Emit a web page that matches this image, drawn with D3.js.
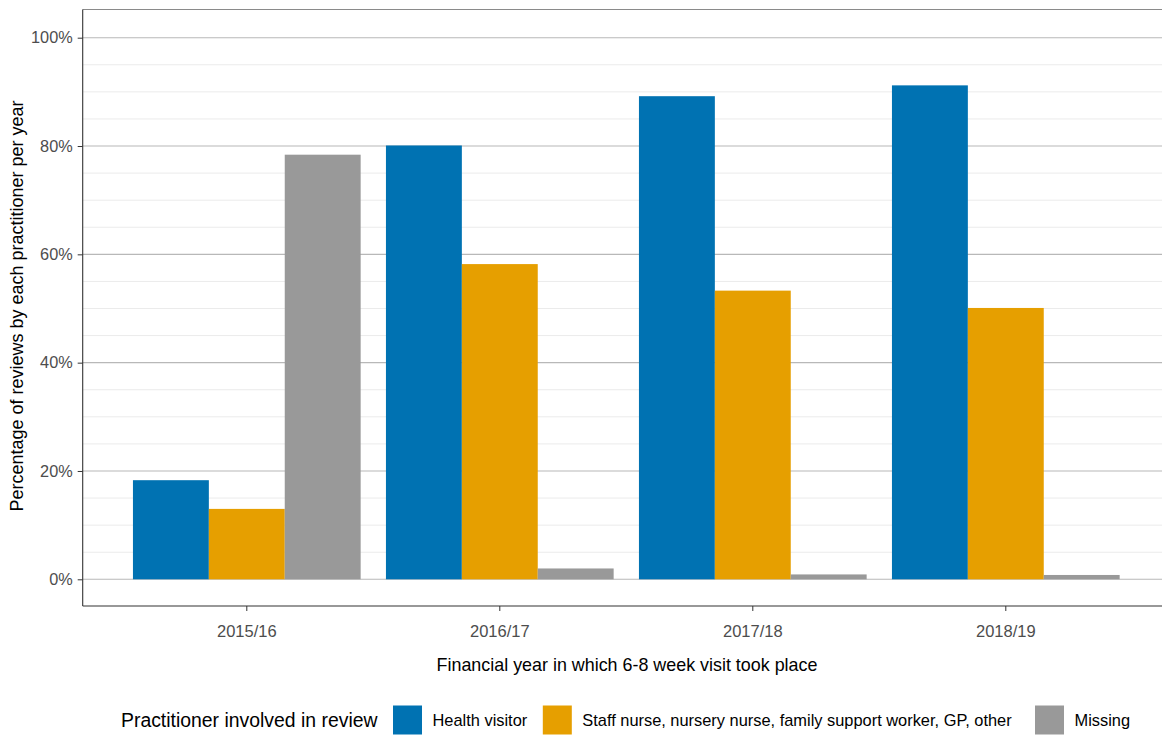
<!DOCTYPE html>
<html><head><meta charset="utf-8">
<script src="https://cdn.jsdelivr.net/npm/d3@7"></script>
<style>body{margin:0;background:#fff}text{font-family:"Liberation Sans",Arial,sans-serif}</style>
</head><body><svg id="c" width="1162" height="735"></svg>
<script>
const years = ["2015/16","2016/17","2017/18","2018/19"];
const seriesNames = ["Health visitor","Staff nurse, nursery nurse, family support worker, GP, other","Missing"];
const healthVisitor = [0.183, 0.801, 0.892, 0.912];
const staffOther = [0.130, 0.582, 0.533, 0.501];
const missing = [0.784, 0.020, 0.009, 0.008];
const colors = ["#0072B2","#E69F00","#999999"];
const yTicks = [0,0.2,0.4,0.6,0.8,1.0];
const yMinor = [0.05,0.1,0.15,0.25,0.3,0.35,0.45,0.5,0.55,0.65,0.7,0.75,0.85,0.9,0.95];

const values = [healthVisitor, staffOther, missing];
const data = years.map((y,i)=>({year:y, vals: values.map((v,k)=>({k, v:v[i]}))}));

const svg = d3.select("#c");
const L = 82.7, R = 1162, T = 9.5, B = 606;
const x = d3.scaleBand().domain(years).range([120.3,1132.3]).paddingInner(0.1).paddingOuter(0.05);
const xs = d3.scaleBand().domain([0,1,2]).range([0,x.bandwidth()]);
const y = d3.scaleLinear().domain([0,1]).range([579.3,37.7]);

svg.append("g").selectAll("line").data(yMinor).join("line")
  .attr("x1",L).attr("x2",R).attr("y1",d=>y(d)).attr("y2",d=>y(d))
  .attr("stroke","#ebebeb").attr("stroke-width",1);
svg.append("g").selectAll("line").data(yTicks).join("line")
  .attr("x1",L).attr("x2",R).attr("y1",d=>y(d)).attr("y2",d=>y(d))
  .attr("stroke","#b8b8b8").attr("stroke-width",1.1);

svg.append("g").selectAll("g").data(data).join("g")
  .attr("transform",d=>`translate(${x(d.year)},0)`)
  .selectAll("rect").data(d=>d.vals).join("rect")
  .attr("x",d=>xs(d.k)).attr("width",xs.bandwidth())
  .attr("y",d=>y(d.v)).attr("height",d=>y(0)-y(d.v))
  .attr("fill",d=>colors[d.k]);

svg.append("line").attr("x1",L).attr("x2",R).attr("y1",T).attr("y2",T).attr("stroke","#8a8a8a").attr("stroke-width",1.1);

const ya = svg.append("g").attr("transform",`translate(${L},0)`)
  .call(d3.axisLeft(y).tickValues(yTicks).tickFormat(d3.format(".0%")).tickSize(5).tickPadding(5));
ya.select(".domain").remove();
ya.append("line").attr("x1",0).attr("x2",0).attr("y1",T).attr("y2",B).attr("stroke","#333").attr("stroke-width",1.1);
ya.selectAll(".tick line").attr("stroke","#333");
ya.selectAll(".tick text").attr("fill","#4d4d4d").style("font-size","16.3px").attr("font-family","Liberation Sans, Arial, sans-serif");

const xa = svg.append("g").attr("transform",`translate(0,${B})`)
  .call(d3.axisBottom(x).tickSize(5).tickPadding(14));
xa.select(".domain").remove();
xa.append("line").attr("x1",L).attr("x2",R).attr("y1",0).attr("y2",0).attr("stroke","#333").attr("stroke-width",1.1);
xa.selectAll(".tick line").attr("stroke","#333");
xa.selectAll(".tick text").attr("fill","#4d4d4d").style("font-size","16.5px").attr("font-family","Liberation Sans, Arial, sans-serif");

svg.append("text").attr("x",627).attr("y",671).attr("text-anchor","middle")
  .style("font-size","17.9px").attr("fill","#000").text("Financial year in which 6-8 week visit took place");
svg.append("text").attr("transform","translate(22.5,306) rotate(-90)").attr("text-anchor","middle")
  .style("font-size","18px").attr("fill","#000").text("Percentage of reviews by each practitioner per year");

const lg = svg.append("g");
lg.append("text").attr("x",121).attr("y",727).style("font-size","19.4px").attr("fill","#000").text("Practitioner involved in review");
const keyX = [393, 542.8, 1035];
seriesNames.forEach((n,i)=>{
  lg.append("rect").attr("x",keyX[i]).attr("y",705.5).attr("width",29).attr("height",29).attr("fill",colors[i]);
  lg.append("text").attr("x",keyX[i]+39.5).attr("y",726).style("font-size","16.4px").attr("fill","#000").text(n);
});
</script></body></html>
